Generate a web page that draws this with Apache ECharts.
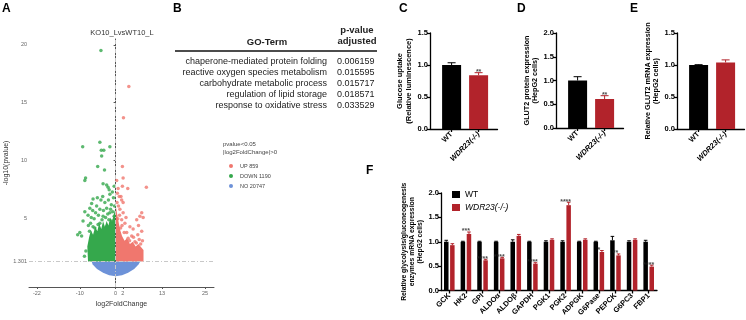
<!DOCTYPE html>
<html>
<head>
<meta charset="utf-8">
<script src="https://cdn.jsdelivr.net/npm/echarts@6/dist/echarts.min.js"></script>
<style>
  html, body { margin: 0; background: #fff; }
  #main { width: 746px; height: 320px; }
</style>
</head>
<body>
<div id="main"></div>
<script>
// ---- A: volcano plot ----
const volcanoXTicks = [-22, -10, 0, 2, 13, 25]
const volcanoYTicks = [1.301, 5, 10, 15, 20]
const volcanoLegend = ['UP 859', 'DOWN 1190', 'NO 20747']
const downPoints = [
  [-4.1, 19.5], [-9.2, 11.2], [-4.4, 11.6], [-1.6, 11.2], [-4.0, 10.9], [-3.3, 10.9],
  [-3.9, 10.4], [-5.0, 9.5], [-3.1, 9.2], [-8.4, 8.5], [-8.6, 8.3], [-3.5, 8.0],
  [-2.5, 7.9], [-2.1, 7.7], [-1.8, 7.5], [-1.6, 7.1], [-6.3, 6.7], [-6.7, 6.3],
  [-5.3, 6.1], [-4.4, 5.8], [-8.6, 5.6], [-2.5, 5.9], [-7.7, 5.3], [-3.5, 5.2],
  [-1.6, 5.5], [-9.1, 4.8], [-10.0, 3.8], [-9.5, 3.5], [-10.6, 3.6], [-8.3, 2.2],
  [-8.7, 1.75], [-4.4, 4.6], [-6.3, 4.3], [-2.5, 4.3], [-5.3, 3.8], [-7.0, 4.6],
  [-6.0, 5.0], [-5.8, 4.2], [-4.8, 5.3], [-3.0, 6.4], [-1.2, 6.2], [-0.6, 6.8],
  [-2.0, 6.6], [-7.3, 3.9], [-3.8, 4.9], [-1.0, 4.8], [-0.4, 5.2], [-7.2, 5.9],
  [-6.8, 5.1], [-5.6, 5.5], [-4.9, 4.5], [-4.1, 6.6], [-3.4, 5.7], [-2.8, 5.1],
  [-2.2, 5.4], [-1.4, 5.8], [-0.8, 5.6], [-0.3, 6.1], [-1.9, 4.9], [-6.4, 5.7],
  [-7.6, 4.4], [-5.1, 6.8], [-3.6, 6.9], [-0.9, 7.3], [-0.4, 7.8]
]
const upPoints = [
  [3.7, 16.4], [2.2, 13.7], [1.9, 9.5], [2.1, 8.5], [1.9, 7.8], [3.4, 7.6], [8.6, 7.7],
  [1.7, 6.6], [2.1, 6.4], [1.5, 6.9], [7.3, 5.5], [6.8, 5.2], [7.7, 5.1], [5.9, 4.9],
  [4.0, 4.3], [4.9, 4.1], [7.3, 3.9], [3.1, 3.8], [6.6, 3.2], [5.4, 3.0], [2.1, 5.5],
  [2.6, 4.6], [1.7, 4.9], [3.5, 3.3], [1.2, 5.8], [0.8, 6.1], [0.6, 5.0], [1.4, 4.2],
  [7.0, 2.8], [6.2, 3.6], [4.5, 3.5], [2.9, 5.1], [0.5, 7.2], [1.0, 6.9], [0.4, 6.4],
  [1.1, 5.3], [1.8, 4.4], [2.4, 3.8], [3.9, 3.1], [5.0, 3.4], [5.8, 2.9], [7.5, 3.1],
  [6.4, 4.4], [0.3, 8.3], [0.7, 7.6]
]
// outlines of the dense clouds of points
const downCloud = [
  [-7.7, 1.3], [-7.9, 2.6], [-7.4, 3.4], [-6.9, 4.0], [-6.3, 3.6], [-5.7, 4.3], [-5.1, 3.9],
  [-4.6, 4.6], [-4.0, 4.1], [-3.5, 4.8], [-3.0, 4.3], [-2.5, 4.8], [-2.0, 4.4], [-1.5, 5.1],
  [-1.0, 4.7], [-0.5, 5.4], [-0.1, 5.8], [-0.1, 1.3]
]
const upCloud = [
  [0.1, 1.3], [0.1, 6.0], [0.5, 5.3], [0.9, 4.6], [1.3, 4.0], [1.8, 3.5], [2.5, 3.1],
  [3.2, 3.3], [4.0, 2.8], [4.8, 3.0], [5.6, 2.6], [6.4, 2.8], [7.2, 2.5], [7.8, 2.3], [7.8, 1.3]
]
const noCloud = [
  [-6.7, 1.3], [-6.4, 1.05], [-5.2, 0.65], [-3.5, 0.32], [-1.8, 0.12], [0, 0.02],
  [1.8, 0.12], [3.5, 0.32], [5.2, 0.65], [6.4, 1.05], [6.9, 1.3]
]

// ---- B: GO table ----
const goTerms = [
  'chaperone-mediated protein folding',
  'reactive oxygen species metabolism',
  'carbohydrate metabolic process',
  'regulation of lipid storage',
  'response to oxidative stress'
]
const goPAdj = ['0.006159', '0.015595', '0.015717', '0.018571', '0.033529']

// ---- C, D, E ----
const groups = ['WT', 'WDR23(-/-)']
const cVals = [1.0, 0.84]
const cErr = [0.035, 0.04]
const cStars = ['', '**']
const dVals = [1.0, 0.61]
const dErr = [0.08, 0.07]
const dStars = ['', '**']
const eVals = [1.0, 1.04]
const eErr = [0.005, 0.04]
const eStars = ['', '']

// ---- F ----
const fCats = ['GCK', 'HK2', 'GPI', 'ALDOα', 'ALDOβ', 'GAPDH', 'PGK1', 'PGK2', 'ADPGK', 'G6Pase', 'PEPCK', 'G6PC3', 'FBP1']
const fWT = [1, 1, 1, 1, 1, 1, 1, 1, 1, 1, 1.03, 1, 1]
const fWTErr = [0.03, 0.01, 0.01, 0.01, 0.04, 0.01, 0.02, 0.02, 0.01, 0.01, 0.08, 0.02, 0.03]
const fKO = [0.93, 1.16, 0.62, 0.66, 1.12, 0.55, 1.04, 1.75, 1.04, 0.79, 0.72, 1.04, 0.49]
const fKOErr = [0.03, 0.04, 0.02, 0.02, 0.03, 0.02, 0.02, 0.06, 0.02, 0.03, 0.03, 0.02, 0.03]
const fStars = ['', '***', '****', '****', '', '****', '', '****', '', '*', '**', '', '****']

const FONT = 'Liberation Sans'
const BLACK = '#000000'
const RED = '#B2232B'
const UP_C = '#F0776E'
const DOWN_C = '#35A84C'
const NO_C = '#6D92D8'

function cloud(points) {
  return function (params, api) {
    if (params.dataIndex !== 0) return null
    return {
      type: 'polygon',
      shape: { points: points.map((p) => api.coord(p)) },
      style: { fill: api.visual('color') }
    }
  }
}

function errBars(dx, cap, color) {
  return function (params, api) {
    const x = api.value(0), v = api.value(1), e = api.value(2)
    const a = api.coord([x, v]), b = api.coord([x, v + e])
    const cx = a[0] + dx
    const st = { stroke: color, lineWidth: 1 }
    return {
      type: 'group',
      children: [
        { type: 'line', shape: { x1: cx, y1: a[1], x2: cx, y2: b[1] }, style: st },
        { type: 'line', shape: { x1: cx - cap, y1: b[1], x2: cx + cap, y2: b[1] }, style: st }
      ]
    }
  }
}

function starLabels(xs, tops, stars, gi, dx) {
  const data = []
  stars.forEach((s, i) => { if (s) data.push({ value: [xs[i], tops[i]], star: s }) })
  return {
    type: 'scatter', xAxisIndex: gi, yAxisIndex: gi, symbolSize: 0, silent: true,
    data: data,
    label: {
      show: true, position: 'top', distance: 0, offset: [dx, 3],
      formatter: (p) => p.data.star, fontFamily: FONT, fontSize: 7, fontWeight: 'bold', color: '#222'
    }
  }
}

const boldLabel = { fontFamily: FONT, fontSize: 7.5, fontWeight: 'bold', color: '#000' }
const italicRich = { i: { fontFamily: FONT, fontSize: 7.5, fontWeight: 'bold', fontStyle: 'italic', color: '#000' } }

function barYAxis(gi, max, name, gap, size) {
  return {
    gridIndex: gi, type: 'value', min: 0, max: max, interval: 0.5,
    axisLine: { show: true, lineStyle: { color: '#000', width: 1.3 } },
    axisTick: { show: true, length: 3, lineStyle: { color: '#000', width: 1.3 } },
    axisLabel: Object.assign({ margin: 2, formatter: (v) => v.toFixed(1) }, boldLabel),
    splitLine: { show: false },
    name: name, nameLocation: 'middle', nameRotate: 90, nameGap: gap,
    nameTextStyle: { fontFamily: FONT, fontSize: size, fontWeight: 'bold', color: '#000', lineHeight: size + 1.5 }
  }
}

function pairXAxis(gi) {
  const pos = groups.map((g, i) => i + 0.8)
  return {
    gridIndex: gi, type: 'value', min: 0, max: 2.5,
    axisLine: { show: true, onZero: false, lineStyle: { color: '#000', width: 1.3 } },
    axisTick: { show: true, length: 3, customValues: pos, lineStyle: { color: '#000', width: 1.3 } },
    axisLabel: Object.assign({
      margin: 4, rotate: 45, customValues: pos, rich: italicRich,
      formatter: (v) => { const g = groups[Math.round(v - 0.8)]; return g === 'WT' ? g : '{i|' + g + '}' }
    }, boldLabel),
    splitLine: { show: false }
  }
}

function pairSeries(gi, vals, err, stars) {
  const pos = groups.map((g, i) => i + 0.8)
  const colors = [BLACK, RED]
  return [
    {
      type: 'bar', xAxisIndex: gi, yAxisIndex: gi, barWidth: 19, silent: true,
      data: vals.map((v, i) => ({ value: [pos[i], v], itemStyle: { color: colors[i] } }))
    },
    {
      type: 'custom', xAxisIndex: gi, yAxisIndex: gi, silent: true,
      renderItem: (params, api) => errBars(0, 4, colors[params.dataIndex])(params, api),
      data: vals.map((v, i) => [pos[i], v, err[i]])
    },
    starLabels(pos, vals.map((v, i) => v + err[i]), stars, gi, 0)
  ]
}

const chart = echarts.init(document.getElementById('main'))

const letter = (t, x, y) => ({ type: 'text', left: x, top: y, style: { text: t, fontFamily: FONT, fontSize: 12, fontWeight: 'bold', fill: '#000' } })
const tableText = []
goTerms.forEach((t, i) => {
  tableText.push({ type: 'text', x: 327, y: 62 + i * 11, style: { text: t, fontFamily: FONT, fontSize: 9, fill: '#222', align: 'right', verticalAlign: 'middle' } })
  tableText.push({ type: 'text', x: 337, y: 62 + i * 11, style: { text: goPAdj[i], fontFamily: FONT, fontSize: 9, fill: '#222', align: 'left', verticalAlign: 'middle' } })
})

chart.setOption({
  animation: false,
  textStyle: { fontFamily: FONT },
  grid: [
    { left: 29, top: 39, width: 185, height: 248 },
    { left: 430, top: 33, width: 67.5, height: 96 },
    { left: 556, top: 33, width: 67.5, height: 95 },
    { left: 677, top: 33, width: 67.5, height: 96 },
    { left: 441, top: 193, width: 216, height: 97.5 }
  ],
  legend: [
    {
      data: volcanoLegend, orient: 'vertical', left: 224, top: 158, itemWidth: 4, itemHeight: 4, itemGap: 4,
      icon: 'circle', selectedMode: false,
      textStyle: { fontFamily: FONT, fontSize: 5.5, color: '#444', padding: [0, 0, 0, 2] }
    },
    {
      data: ['WT', 'WDR23(-/-)'], orient: 'vertical', left: 447, top: 185, itemWidth: 8, itemHeight: 7, itemGap: 4,
      icon: 'rect', selectedMode: false,
      formatter: (n) => n === 'WT' ? n : '{i|' + n + '}',
      textStyle: { fontFamily: FONT, fontSize: 8.5, color: '#000', rich: { i: { fontFamily: FONT, fontSize: 8.5, fontStyle: 'italic', color: '#000' } } }
    }
  ],
  xAxis: [
    {
      gridIndex: 0, type: 'value', min: -24.2, max: 27.5,
      axisLine: { show: true, onZero: false, lineStyle: { color: '#555', width: 1 } },
      axisTick: { show: true, length: 2, customValues: volcanoXTicks, lineStyle: { color: '#555' } },
      axisLabel: { customValues: volcanoXTicks, fontSize: 5.5, color: '#666', margin: 3 },
      splitLine: { show: false },
      name: 'log2FoldChange', nameLocation: 'middle', nameGap: 11,
      nameTextStyle: { fontSize: 7, color: '#333' }
    },
    pairXAxis(1), pairXAxis(2), pairXAxis(3),
    {
      gridIndex: 4, type: 'category', data: fCats,
      axisLine: { show: true, lineStyle: { color: '#000', width: 1.3 } },
      axisTick: { show: true, length: 3, alignWithLabel: true, lineStyle: { color: '#000', width: 1.3 } },
      axisLabel: { margin: 4, rotate: 45, interval: 0, fontSize: 7.5, fontFamily: FONT, fontWeight: 'bold', color: '#000' }
    }
  ],
  yAxis: [
    {
      gridIndex: 0, type: 'value', min: -0.9, max: 20.5,
      axisLine: { show: true, lineStyle: { color: '#555', width: 1 } },
      axisTick: { show: true, length: 2, customValues: volcanoYTicks, lineStyle: { color: '#555' } },
      axisLabel: { customValues: volcanoYTicks, fontSize: 5.5, color: '#666', margin: 2, formatter: (v) => String(v) },
      splitLine: { show: false },
      name: '-log10(pvalue)', nameLocation: 'middle', nameRotate: 90, nameGap: 15,
      nameTextStyle: { fontSize: 7, color: '#333' }
    },
    barYAxis(1, 1.5, 'Glucose uptake\n(Relative luminescence)', 15, 7.5),
    barYAxis(2, 2.0, 'GLUT2 protein expression\n(HepG2 cells)', 15, 7.2),
    barYAxis(3, 1.5, 'Relative GLUT2 mRNA expression\n(HepG2 cells)', 14, 7.2),
    barYAxis(4, 2.0, 'Relative glycolysis/gluconeogenesis\nenzymes mRNA expression\n(HepG2 cells)', 16, 6.8)
  ],
  graphic: [
    letter('A', 2, 3), letter('B', 173, 3), letter('C', 399, 3), letter('D', 517, 3), letter('E', 630, 3), letter('F', 366, 165),
    { type: 'text', x: 122, y: 33, style: { text: 'KO10_LvsWT10_L', fontFamily: FONT, fontSize: 7.5, fill: '#333', align: 'center', verticalAlign: 'middle' } },
    { type: 'text', x: 223, y: 141, style: { text: 'pvalue<0.05\n|log2FoldChange|>0', fontFamily: FONT, fontSize: 6, lineHeight: 7.5, fill: '#444' } },
    { type: 'text', x: 267, y: 42, style: { text: 'GO-Term', fontFamily: FONT, fontSize: 9.5, fontWeight: 'bold', fill: '#222', align: 'center', verticalAlign: 'middle' } },
    { type: 'text', x: 357, y: 36, style: { text: 'p-value\nadjusted', fontFamily: FONT, fontSize: 9.5, lineHeight: 11, fontWeight: 'bold', fill: '#222', align: 'center', verticalAlign: 'middle' } },
    { type: 'line', shape: { x1: 175, y1: 51, x2: 377, y2: 51 }, style: { stroke: '#111', lineWidth: 1.5 } }
  ].concat(tableText),
  series: [
    { name: 'NO 20747', type: 'custom', xAxisIndex: 0, yAxisIndex: 0, itemStyle: { color: NO_C }, renderItem: cloud(noCloud), data: noCloud, silent: true },
    { name: 'DOWN 1190', type: 'custom', xAxisIndex: 0, yAxisIndex: 0, itemStyle: { color: DOWN_C }, renderItem: cloud(downCloud), data: downCloud, silent: true },
    { name: 'UP 859', type: 'custom', xAxisIndex: 0, yAxisIndex: 0, itemStyle: { color: UP_C }, renderItem: cloud(upCloud), data: upCloud, silent: true },
    { name: 'DOWN 1190', type: 'scatter', xAxisIndex: 0, yAxisIndex: 0, symbolSize: 3.5, itemStyle: { color: DOWN_C }, data: downPoints, silent: true },
    {
      name: 'UP 859', type: 'scatter', xAxisIndex: 0, yAxisIndex: 0, symbolSize: 3.5, itemStyle: { color: UP_C }, data: upPoints, silent: true,
      markLine: {
        silent: true, symbol: 'none', label: { show: false },
        lineStyle: { color: '#c8c8c8', type: [4, 2, 1, 2], width: 1 },
        data: [{ xAxis: 0 }, { yAxis: 1.301 }]
      }
    },
    ...pairSeries(1, cVals, cErr, cStars),
    ...pairSeries(2, dVals, dErr, dStars),
    ...pairSeries(3, eVals, eErr, eStars),
    {
      name: 'WT', type: 'bar', xAxisIndex: 4, yAxisIndex: 4, barWidth: 4.5, barGap: '35%', silent: true,
      itemStyle: { color: BLACK }, data: fWT
    },
    {
      name: 'WDR23(-/-)', type: 'bar', xAxisIndex: 4, yAxisIndex: 4, barWidth: 4.5, silent: true,
      itemStyle: { color: RED }, data: fKO
    },
    { type: 'custom', xAxisIndex: 4, yAxisIndex: 4, silent: true, renderItem: errBars(-3.05, 1.8, BLACK), data: fWT.map((v, i) => [i, v, fWTErr[i]]) },
    { type: 'custom', xAxisIndex: 4, yAxisIndex: 4, silent: true, renderItem: errBars(3.05, 1.8, RED), data: fKO.map((v, i) => [i, v, fKOErr[i]]) },
    starLabels(fCats.map((c, i) => i), fKO.map((v, i) => v + fKOErr[i]), fStars, 4, 0)
  ]
})
</script>
</body>
</html>
